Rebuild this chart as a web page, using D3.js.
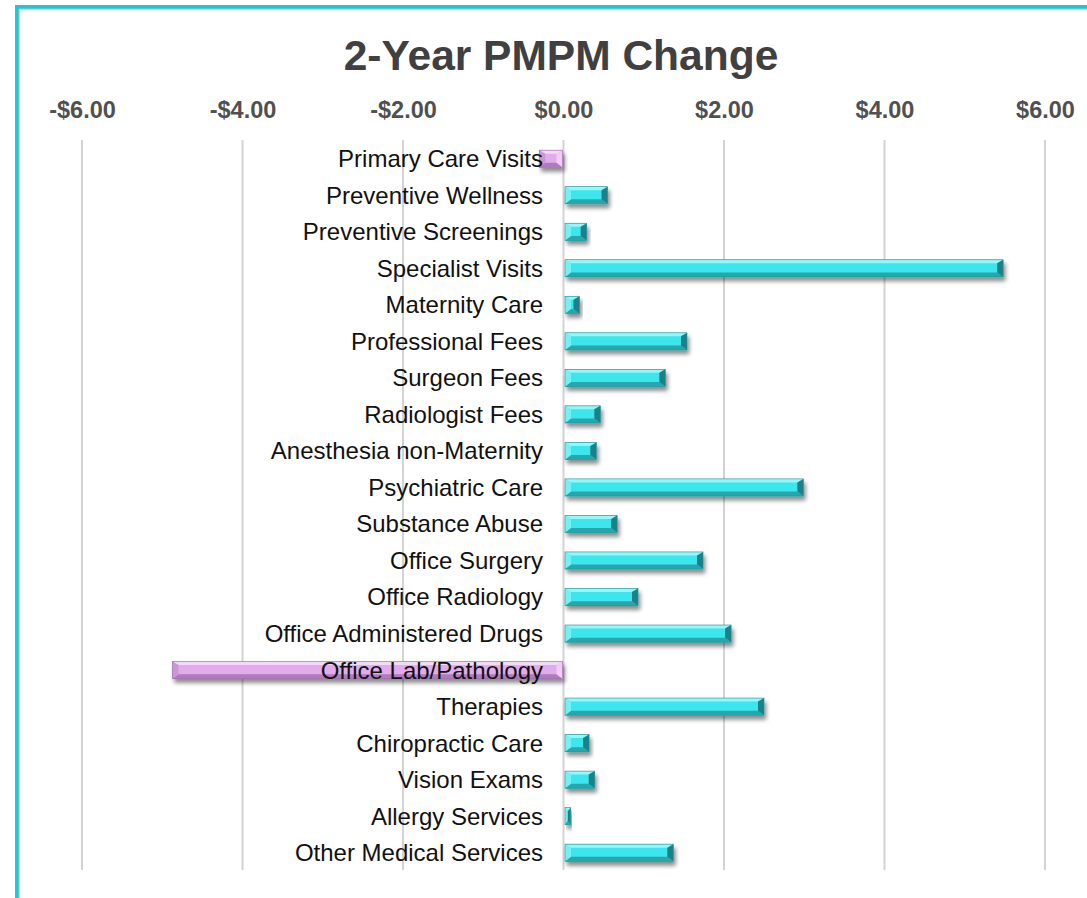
<!DOCTYPE html>
<html>
<head>
<meta charset="utf-8">
<script src="https://cdn.jsdelivr.net/npm/d3@7"></script>
<style>
  html, body { margin: 0; padding: 0; background: #ffffff; }
  svg { display: block; }
</style>
</head>
<body>
<div id="chart"></div>
<script>
const categories = [
  "Primary Care Visits", "Preventive Wellness", "Preventive Screenings", "Specialist Visits",
  "Maternity Care", "Professional Fees", "Surgeon Fees", "Radiologist Fees",
  "Anesthesia non-Maternity", "Psychiatric Care", "Substance Abuse", "Office Surgery",
  "Office Radiology", "Office Administered Drugs", "Office Lab/Pathology", "Therapies",
  "Chiropractic Care", "Vision Exams", "Allergy Services", "Other Medical Services"
];
const values = [
  -0.29, 0.53, 0.27, 5.46,
  0.18, 1.52, 1.25, 0.44,
  0.39, 2.97, 0.65, 1.72,
  0.91, 2.07, -4.86, 2.48,
  0.30, 0.37, 0.07, 1.35
];
const tickValues = [-6, -4, -2, 0, 2, 4, 6];
const titleText = "2-Year PMPM Change";

const W = 1087, H = 898;
const svg = d3.select("#chart").append("svg").attr("width", W).attr("height", H);

const defs = svg.append("defs");
const f = defs.append("filter").attr("id", "shadow").attr("x", "-10%").attr("y", "-50%").attr("width", "130%").attr("height", "250%");
f.append("feGaussianBlur").attr("in", "SourceAlpha").attr("stdDeviation", 2.2).attr("result", "b");
f.append("feOffset").attr("in", "b").attr("dx", 2).attr("dy", 4).attr("result", "o");
f.append("feComponentTransfer").attr("in", "o").attr("result", "s")
  .append("feFuncA").attr("type", "linear").attr("slope", 0.45);
const m = f.append("feMerge");
m.append("feMergeNode").attr("in", "s");
m.append("feMergeNode").attr("in", "SourceGraphic");

// frame
svg.append("rect").attr("x", 17).attr("y", 7).attr("width", 1200).attr("height", 1200)
  .attr("fill", "none").attr("stroke", "#21c8d2").attr("stroke-width", 4);
svg.append("rect").attr("x", 19.5).attr("y", 9.5).attr("width", 1200).attr("height", 1200)
  .attr("fill", "none").attr("stroke", "#d4d4d4").attr("stroke-width", 1.5);

const x = d3.scaleLinear().domain([-6, 6]).range([82, 1045]);
const y = d3.scaleBand().domain(categories).range([140.5, 871]).paddingInner(0.53).paddingOuter(0.265);

// title
svg.append("text").attr("x", 561).attr("y", 70).attr("text-anchor", "middle")
  .attr("font-family", "Liberation Sans, Arial, sans-serif").attr("font-weight", "bold")
  .attr("font-size", 42.5).attr("fill", "#404040").text(titleText);

// gridlines
svg.append("g").selectAll("line").data(tickValues).join("line")
  .attr("x1", d => x(d)).attr("x2", d => x(d))
  .attr("y1", 140).attr("y2", 870)
  .attr("stroke", "#d3d3d3").attr("stroke-width", 2);

// top axis labels
const fmt = d => (d < 0 ? "-$" : "$") + Math.abs(d).toFixed(2);
const axis = d3.axisTop(x).tickValues(tickValues).tickFormat(fmt).tickSize(0).tickPadding(0);
const ag = svg.append("g").attr("transform", "translate(0,118)").call(axis);
ag.select(".domain").remove();
ag.selectAll("text").attr("font-family", "Liberation Sans, Arial, sans-serif")
  .attr("font-weight", "bold").attr("font-size", 23.5).attr("fill", "#505050");

// bars
const pal = {
  pos: { main: "#3de6ec", top: "#8ffafc", bot: "#2aa6ab", lend: "#7ef2f5", rend: "#17767c" },
  neg: { main: "#e2acec", top: "#f5d9f9", bot: "#ae7cbb", lend: "#c693d2", rend: "#f3cff8" }
};
const bars = svg.append("g").selectAll("g").data(categories.map((c, i) => ({ c, v: values[i] }))).join("g")
  .attr("filter", "url(#shadow)");
bars.each(function (d) {
  const g = d3.select(this);
  const x0 = Math.min(x(0), x(d.v)) + (d.v > 0 ? 1.5 : -1);
  const x1 = Math.max(x(0), x(d.v)) + (d.v > 0 ? 1.5 : -1);
  const y0 = y(d.c), h = y.bandwidth(), y1 = y0 + h;
  const p = d.v >= 0 ? pal.pos : pal.neg;
  const b = Math.min(6, (x1 - x0) / 2), t = 3.5, bb = 4.5;
  g.append("rect").attr("x", x0).attr("y", y0).attr("width", x1 - x0).attr("height", h).attr("fill", p.main);
  g.append("path").attr("d", `M${x0},${y0}L${x1},${y0}L${x1 - b},${y0 + t}L${x0 + b},${y0 + t}Z`).attr("fill", p.top);
  g.append("path").attr("d", `M${x0},${y1}L${x1},${y1}L${x1 - b},${y1 - bb}L${x0 + b},${y1 - bb}Z`).attr("fill", p.bot);
  g.append("path").attr("d", `M${x0},${y0}L${x0 + b},${y0 + t}L${x0 + b},${y1 - bb}L${x0},${y1}Z`).attr("fill", p.lend).attr("opacity", 0.85);
  g.append("path").attr("d", `M${x1},${y0}L${x1 - b},${y0 + t}L${x1 - b},${y1 - bb}L${x1},${y1}Z`).attr("fill", p.rend).attr("opacity", 0.9);
  g.append("rect").attr("x", x0).attr("y", y0).attr("width", x1 - x0).attr("height", h)
    .attr("fill", "none").attr("stroke", d.v >= 0 ? "#1f8f95" : "#9a68a6").attr("stroke-width", 0.6);
});

// category labels
svg.append("g").selectAll("text").data(categories).join("text")
  .attr("x", 543).attr("y", d => y(d) + y.bandwidth() / 2).attr("dy", "0.35em")
  .attr("text-anchor", "end").attr("font-family", "Liberation Sans, Arial, sans-serif")
  .attr("font-size", 24).attr("fill", "#111").text(d => d);
</script>
</body>
</html>
